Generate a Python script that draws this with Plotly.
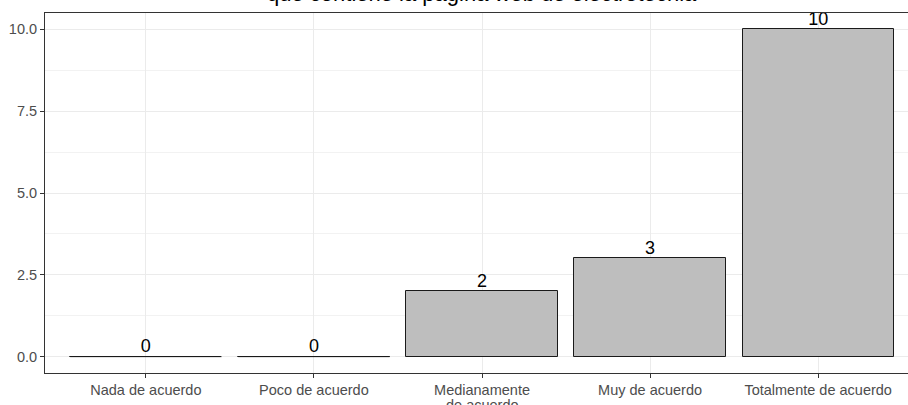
import plotly.graph_objects as go

categories = ["Nada de acuerdo", "Poco de acuerdo", "Medianamente\nde acuerdo",
              "Muy de acuerdo", "Totalmente de acuerdo"]
values = [0, 0, 2, 3, 10]
y_ticks = [0, 2.5, 5, 7.5, 10]
y_minor = [1.25, 3.75, 6.25, 8.75]
title_text = "que contiene la página web de electrotecnia"

FONT = "Liberation Sans, Arial, sans-serif"
BAR_W = 0.9
TICK_FONT = dict(family=FONT, size=14.5, color="#4D4D4D")

fig = go.Figure()
fig.add_trace(go.Bar(
    x=categories, y=values, width=BAR_W,
    marker=dict(color="#BEBEBE", line=dict(color="#1a1a1a", width=1)),
    hoverinfo="x+y", showlegend=False,
))
fig.add_trace(go.Scatter(
    x=categories, y=values, mode="text", text=[str(v) for v in values],
    textposition="top center", textfont=dict(family=FONT, size=18, color="black"),
    cliponaxis=False, showlegend=False, hoverinfo="skip",
))

# zero-height bars are drawn as their outline (a flat line)
for i, v in enumerate(values):
    if v == 0:
        fig.add_shape(type="line", xref="x", yref="y",
                      x0=i - BAR_W / 2, x1=i + BAR_W / 2, y0=v, y1=v,
                      line=dict(color="#1a1a1a", width=1), layer="above")

# tick labels: first line as tick text, following lines as tighter-spaced annotations
first_lines = [c.split("\n")[0] for c in categories]
for c in categories:
    rest = c.split("\n")[1:]
    for k, line in enumerate(rest):
        fig.add_annotation(text=line, xref="x", yref="paper", x=c, y=0,
                           yanchor="top", yshift=-22 - 14 * k, showarrow=False,
                           font=TICK_FONT)

fig.add_annotation(text=title_text, xref="x", yref="paper",
                   x=categories[len(categories) // 2], y=1, yanchor="bottom", yshift=5,
                   showarrow=False, font=dict(family=FONT, size=22, color="black"))

fig.update_layout(
    template="none",
    width=919, height=405,
    margin=dict(l=45, r=0, t=13, b=32, autoexpand=False),
    plot_bgcolor="white", paper_bgcolor="white",
    font=dict(family=FONT),
    bargap=0,
)
fig.update_xaxes(
    automargin=False,
    range=[-0.6, 4.6], tickvals=categories, ticktext=first_lines,
    showgrid=True, gridcolor="#EBEBEB", gridwidth=1,
    showline=True, linecolor="#333333", linewidth=1, mirror=True,
    ticks="outside", ticklen=4, tickcolor="#333333",
    tickfont=TICK_FONT,
)
fig.update_yaxes(
    automargin=False,
    range=[-0.5, 10.5], tickvals=y_ticks, tickformat=".1f",
    showgrid=True, gridcolor="#EBEBEB", gridwidth=1, zeroline=False,
    minor=dict(tickvals=y_minor, showgrid=True, gridcolor="#F2F2F2", gridwidth=1),
    showline=True, linecolor="#333333", linewidth=1,
    ticks="outside", ticklen=4, tickcolor="#333333",
    tickfont=TICK_FONT,
)

fig.write_html("out.html", config={"displayModeBar": False},
               post_script="document.body.style.margin='0';document.body.style.overflow='hidden';")
